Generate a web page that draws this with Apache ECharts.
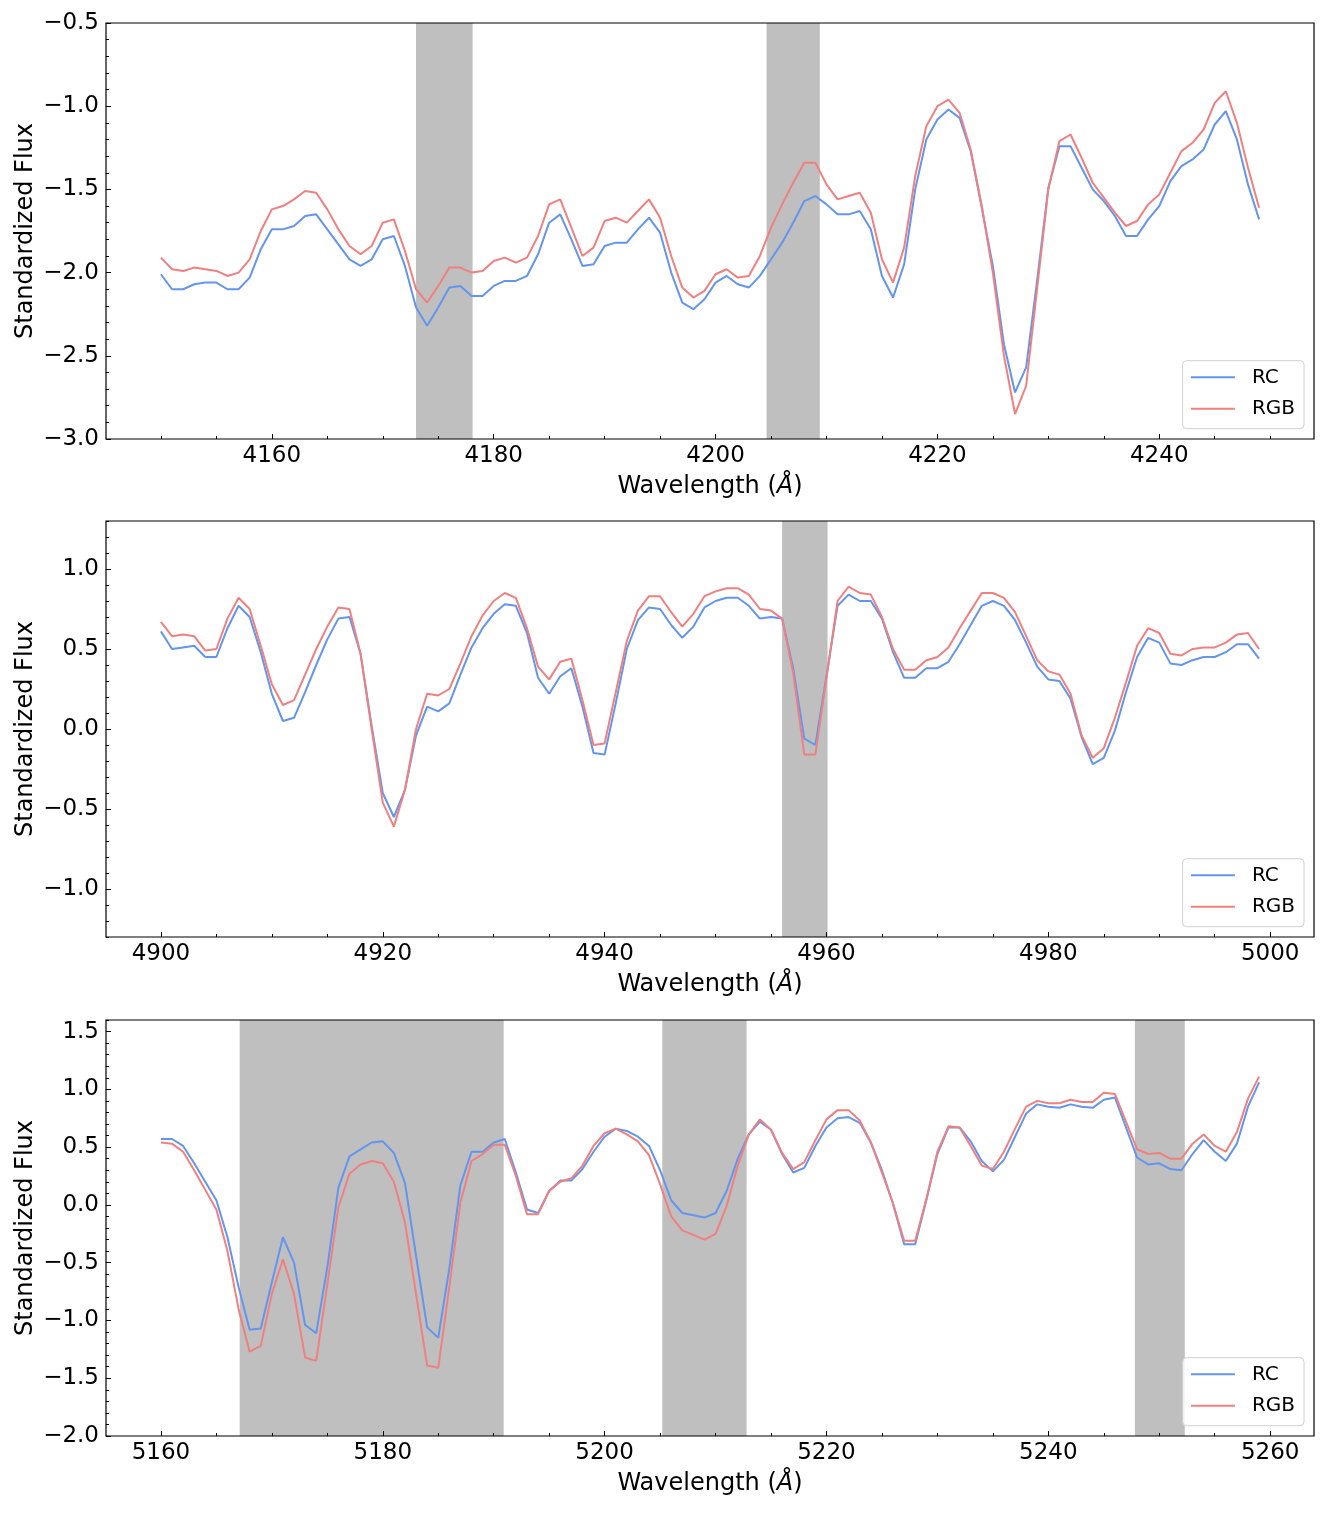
<!DOCTYPE html>
<html>
<head>
<meta charset="utf-8">
<script src="https://cdn.jsdelivr.net/npm/echarts@6/dist/echarts.min.js"></script>
<style>
html,body{margin:0;padding:0;background:#fff;}
#chart{width:1329px;height:1518px;}
</style>
</head>
<body>
<div id="chart"></div>
<script>
// ---------- data ----------
const wl1 = [4150,4151,4152,4153,4154,4155,4156,4157,4158,4159,4160,4161,4162,4163,4164,4165,4166,4167,4168,4169,4170,4171,4172,4173,4174,4175,4176,4177,4178,4179,4180,4181,4182,4183,4184,4185,4186,4187,4188,4189,4190,4191,4192,4193,4194,4195,4196,4197,4198,4199,4200,4201,4202,4203,4204,4205,4206,4207,4208,4209,4210,4211,4212,4213,4214,4215,4216,4217,4218,4219,4220,4221,4222,4223,4224,4225,4226,4227,4228,4229,4230,4231,4232,4233,4234,4235,4236,4237,4238,4239,4240,4241,4242,4243,4244,4245,4246,4247,4248,4249];
const rc1 = [-2.01,-2.10,-2.10,-2.07,-2.06,-2.06,-2.10,-2.10,-2.03,-1.86,
  -1.74,-1.74,-1.72,-1.66,-1.65,-1.74,-1.83,-1.92,-1.96,-1.92,
  -1.80,-1.78,-1.96,-2.21,-2.32,-2.21,-2.09,-2.08,-2.14,-2.14,
  -2.08,-2.05,-2.05,-2.02,-1.89,-1.70,-1.65,-1.80,-1.96,-1.95,
  -1.84,-1.82,-1.82,-1.74,-1.67,-1.76,-2.00,-2.18,-2.22,-2.16,
  -2.06,-2.02,-2.07,-2.09,-2.02,-1.92,-1.82,-1.70,-1.57,-1.54,
  -1.59,-1.65,-1.65,-1.63,-1.74,-2.02,-2.15,-1.95,-1.50,-1.20,
  -1.08,-1.02,-1.07,-1.27,-1.61,-1.96,-2.43,-2.72,-2.57,-2.04,
  -1.49,-1.24,-1.24,-1.37,-1.50,-1.57,-1.66,-1.78,-1.78,-1.68,
  -1.60,-1.45,-1.36,-1.32,-1.26,-1.11,-1.03,-1.20,-1.47,-1.68];
const rgb1 = [-1.91,-1.98,-1.99,-1.97,-1.98,-1.99,-2.02,-2.00,-1.92,-1.75,
  -1.62,-1.60,-1.56,-1.51,-1.52,-1.62,-1.74,-1.84,-1.89,-1.84,
  -1.70,-1.68,-1.87,-2.10,-2.18,-2.08,-1.97,-1.97,-2.00,-1.99,
  -1.93,-1.91,-1.94,-1.91,-1.78,-1.59,-1.56,-1.73,-1.90,-1.85,
  -1.69,-1.67,-1.70,-1.63,-1.56,-1.67,-1.90,-2.09,-2.15,-2.11,
  -2.01,-1.98,-2.03,-2.02,-1.90,-1.73,-1.59,-1.46,-1.34,-1.34,
  -1.47,-1.56,-1.54,-1.52,-1.64,-1.92,-2.06,-1.85,-1.42,-1.12,
  -1.00,-0.96,-1.04,-1.26,-1.60,-2.00,-2.50,-2.85,-2.68,-2.09,
  -1.50,-1.21,-1.17,-1.31,-1.46,-1.55,-1.64,-1.72,-1.69,-1.59,
  -1.53,-1.40,-1.27,-1.22,-1.14,-0.98,-0.91,-1.10,-1.37,-1.61];

const wl2 = [4900,4901,4902,4903,4904,4905,4906,4907,4908,4909,4910,4911,4912,4913,4914,4915,4916,4917,4918,4919,4920,4921,4922,4923,4924,4925,4926,4927,4928,4929,4930,4931,4932,4933,4934,4935,4936,4937,4938,4939,4940,4941,4942,4943,4944,4945,4946,4947,4948,4949,4950,4951,4952,4953,4954,4955,4956,4957,4958,4959,4960,4961,4962,4963,4964,4965,4966,4967,4968,4969,4970,4971,4972,4973,4974,4975,4976,4977,4978,4979,4980,4981,4982,4983,4984,4985,4986,4987,4988,4989,4990,4991,4992,4993,4994,4995,4996,4997,4998,4999];
const rc2 = [0.61,0.50,0.51,0.52,0.45,0.45,0.63,0.77,0.70,0.48,
  0.22,0.05,0.07,0.23,0.40,0.56,0.69,0.70,0.47,0.02,
  -0.40,-0.55,-0.38,-0.04,0.14,0.11,0.16,0.34,0.51,0.63,
  0.72,0.78,0.77,0.60,0.32,0.22,0.33,0.38,0.14,-0.15,
  -0.16,0.16,0.50,0.68,0.76,0.75,0.65,0.57,0.64,0.76,
  0.80,0.82,0.82,0.77,0.69,0.70,0.69,0.38,-0.06,-0.10,
  0.33,0.77,0.84,0.80,0.80,0.69,0.48,0.32,0.32,0.38,
  0.38,0.42,0.53,0.65,0.77,0.80,0.77,0.68,0.54,0.39,
  0.31,0.30,0.19,-0.05,-0.22,-0.18,-0.01,0.23,0.45,0.57,
  0.54,0.41,0.40,0.43,0.45,0.45,0.48,0.53,0.53,0.44];
const rgb2 = [0.67,0.58,0.59,0.58,0.49,0.50,0.69,0.82,0.75,0.52,
  0.28,0.15,0.18,0.34,0.50,0.64,0.76,0.75,0.47,0.00,
  -0.46,-0.61,-0.38,0.00,0.22,0.21,0.25,0.41,0.58,0.71,
  0.80,0.85,0.82,0.63,0.39,0.31,0.42,0.44,0.18,-0.10,
  -0.09,0.23,0.55,0.74,0.83,0.83,0.73,0.64,0.72,0.83,
  0.86,0.88,0.88,0.84,0.75,0.74,0.69,0.35,-0.16,-0.16,
  0.32,0.80,0.89,0.85,0.84,0.70,0.50,0.37,0.37,0.43,
  0.45,0.51,0.63,0.74,0.85,0.85,0.82,0.73,0.58,0.43,
  0.36,0.34,0.22,-0.04,-0.18,-0.12,0.07,0.29,0.52,0.63,
  0.60,0.47,0.46,0.50,0.51,0.51,0.54,0.59,0.60,0.50];

const wl3 = [5160,5161,5162,5163,5164,5165,5166,5167,5168,5169,5170,5171,5172,5173,5174,5175,5176,5177,5178,5179,5180,5181,5182,5183,5184,5185,5186,5187,5188,5189,5190,5191,5192,5193,5194,5195,5196,5197,5198,5199,5200,5201,5202,5203,5204,5205,5206,5207,5208,5209,5210,5211,5212,5213,5214,5215,5216,5217,5218,5219,5220,5221,5222,5223,5224,5225,5226,5227,5228,5229,5230,5231,5232,5233,5234,5235,5236,5237,5238,5239,5240,5241,5242,5243,5244,5245,5246,5247,5248,5249,5250,5251,5252,5253,5254,5255,5256,5257,5258,5259];
const rc3 = [0.57,0.57,0.51,0.36,0.20,0.04,-0.28,-0.71,-1.08,-1.07,
  -0.67,-0.28,-0.50,-1.04,-1.11,-0.54,0.15,0.42,0.48,0.54,
  0.55,0.45,0.19,-0.44,-1.06,-1.15,-0.55,0.17,0.46,0.46,
  0.54,0.57,0.28,-0.04,-0.07,0.12,0.21,0.21,0.31,0.46,
  0.59,0.66,0.64,0.59,0.51,0.30,0.04,-0.07,-0.09,-0.11,
  -0.07,0.12,0.40,0.61,0.72,0.65,0.44,0.28,0.32,0.51,
  0.67,0.75,0.76,0.71,0.54,0.30,0.01,-0.34,-0.34,0.04,
  0.44,0.67,0.67,0.55,0.38,0.29,0.39,0.59,0.79,0.87,
  0.85,0.84,0.87,0.85,0.84,0.91,0.93,0.67,0.41,0.35,
  0.36,0.31,0.30,0.44,0.56,0.46,0.38,0.53,0.85,1.06];
const rgb3 = [0.54,0.53,0.46,0.30,0.13,-0.04,-0.40,-0.90,-1.27,-1.22,
  -0.77,-0.47,-0.77,-1.32,-1.35,-0.69,-0.02,0.27,0.35,0.38,
  0.36,0.20,-0.15,-0.77,-1.39,-1.41,-0.71,0.02,0.38,0.44,
  0.52,0.52,0.25,-0.08,-0.08,0.12,0.20,0.23,0.34,0.51,
  0.62,0.66,0.61,0.55,0.43,0.18,-0.10,-0.22,-0.26,-0.30,
  -0.25,-0.01,0.34,0.61,0.74,0.65,0.45,0.31,0.37,0.56,
  0.74,0.82,0.82,0.73,0.54,0.28,0.01,-0.31,-0.31,0.05,
  0.46,0.68,0.67,0.51,0.34,0.31,0.46,0.66,0.85,0.90,
  0.88,0.88,0.91,0.89,0.89,0.97,0.96,0.72,0.48,0.44,
  0.45,0.40,0.40,0.53,0.61,0.51,0.46,0.63,0.92,1.11];

const xTicks1 = [4160,4180,4200,4220,4240];
const xTicks2 = [4900,4920,4940,4960,4980,5000];
const xTicks3 = [5160,5180,5200,5220,5240,5260];
const yTicks1 = [-3.0,-2.5,-2.0,-1.5,-1.0,-0.5];
const yTicks2 = [-1.0,-0.5,0.0,0.5,1.0];
const yTicks3 = [-2.0,-1.5,-1.0,-0.5,0.0,0.5,1.0,1.5];

const bands1 = [[4173.0,4178.1],[4204.6,4209.4]];
const bands2 = [[4956.0,4960.1]];
const bands3 = [[5167.1,5190.9],[5205.2,5212.8],[5247.8,5252.3]];

const seriesNames = ['RC','RGB'];

// ---------- layout / style ----------
const FONT = 'DejaVu Sans';
const COL_RC = '#6495ED';
const COL_RGB = '#F08080';

function minorTicks(lo, hi, step){
  const out = [];
  const s = Math.ceil(lo/step - 1e-9), e = Math.floor(hi/step + 1e-9);
  for (let i = s; i <= e; i++) out.push(+(i*step).toFixed(6));
  return out;
}
function fmtY(v){
  const a = Math.abs(v).toFixed(1);
  return (v < -1e-9 ? '\u2212' : '') + a;
}

const panels = [
  {wl: wl1, rc: rc1, rgb: rgb1, xr: [4145.05, 4253.95], yr: [-3.0, -0.5], xt: xTicks1, yt: yTicks1, bands: bands1, top: 23},
  {wl: wl2, rc: rc2, rgb: rgb2, xr: [4895.05, 5003.95], yr: [-1.3, 1.3], xt: xTicks2, yt: yTicks2, bands: bands2, top: 521},
  {wl: wl3, rc: rc3, rgb: rgb3, xr: [5155.05, 5263.95], yr: [-2.0, 1.6], xt: xTicks3, yt: yTicks3, bands: bands3, top: 1020}
];
const PH = 416;

const option = {
  animation: false,
  backgroundColor: '#ffffff',
  textStyle: {fontFamily: FONT},
  grid: [], xAxis: [], yAxis: [], series: [], legend: []
};

panels.forEach((p, i) => {
  option.grid.push({left: 106, right: 15, top: p.top, height: PH, show: true,
    borderColor: '#000', borderWidth: 1.2, backgroundColor: 'transparent', z: 5});

  const tickStyle = {color: '#000', width: 1};
  // main x axis
  option.xAxis.push({
    type: 'value', gridIndex: i, min: p.xr[0], max: p.xr[1], position: 'bottom', z: 6,
    axisLine: {show: false, onZero: false}, splitLine: {show: false},
    axisTick: {show: true, inside: true, length: 5, lineStyle: tickStyle, customValues: p.xt},
    axisLabel: {customValues: p.xt, margin: 6, fontSize: 23, color: '#000', fontFamily: FONT,
      formatter: v => String(Math.round(v))},
    name: 'Wavelength ({i|\u00C5})', nameLocation: 'middle', nameGap: 34, nameMoveOverlap: false,
    nameTextStyle: {fontSize: 24, color: '#000', fontFamily: FONT, lineHeight: 27,
      rich: {i: {fontStyle: 'italic', fontSize: 24, color: '#000', fontFamily: FONT, lineHeight: 27}}}
  });
  // minor x axis
  option.xAxis.push({
    type: 'value', gridIndex: i, min: p.xr[0], max: p.xr[1], position: 'bottom', z: 6,
    axisLine: {show: false, onZero: false}, splitLine: {show: false}, axisLabel: {show: false},
    axisTick: {show: true, inside: true, length: 3, lineStyle: tickStyle, customValues: minorTicks(p.xr[0], p.xr[1], 5)}
  });
  // main y axis
  option.yAxis.push({
    type: 'value', gridIndex: i, min: p.yr[0], max: p.yr[1], position: 'left', z: 6,
    axisLine: {show: false, onZero: false}, splitLine: {show: false},
    axisTick: {show: true, inside: true, length: 5, lineStyle: tickStyle, customValues: p.yt},
    axisLabel: {customValues: p.yt, margin: 7, fontSize: 23, color: '#000', fontFamily: FONT, formatter: fmtY},
    name: 'Standardized Flux', nameLocation: 'middle', nameRotate: 90, nameGap: 68, nameMoveOverlap: false,
    nameTextStyle: {fontSize: 24, color: '#000', fontFamily: FONT}
  });
  // minor y axis
  option.yAxis.push({
    type: 'value', gridIndex: i, min: p.yr[0], max: p.yr[1], position: 'left', z: 6,
    axisLine: {show: false, onZero: false}, splitLine: {show: false}, axisLabel: {show: false},
    axisTick: {show: true, inside: true, length: 3, lineStyle: tickStyle, customValues: minorTicks(p.yr[0], p.yr[1], 0.1)}
  });

  // shaded bands
  option.series.push({
    type: 'line', xAxisIndex: 2*i, yAxisIndex: 2*i, data: [], z: 1, silent: true,
    markArea: {silent: true, itemStyle: {color: '#bfbfbf', opacity: 1},
      data: p.bands.map(b => [{xAxis: b[0]}, {xAxis: b[1]}])}
  });
  option.series.push({
    name: seriesNames[0], type: 'line', xAxisIndex: 2*i, yAxisIndex: 2*i, z: 3,
    data: p.wl.map((x, j) => [x, p.rc[j]]), symbol: 'none', showSymbol: false,
    lineStyle: {width: 2, color: COL_RC}, itemStyle: {color: COL_RC}
  });
  option.series.push({
    name: seriesNames[1], type: 'line', xAxisIndex: 2*i, yAxisIndex: 2*i, z: 4,
    data: p.wl.map((x, j) => [x, p.rgb[j]]), symbol: 'none', showSymbol: false,
    lineStyle: {width: 2, color: COL_RGB}, itemStyle: {color: COL_RGB}
  });

  option.legend.push({
    data: seriesNames, orient: 'vertical', right: 25, top: p.top + PH - 10.3 - 68,
    itemWidth: 44, itemHeight: 20, itemGap: 11.4, padding: [6.6, 9, 10, 7.3],
    borderColor: '#d0d0d0', borderWidth: 1, borderRadius: 4,
    backgroundColor: 'rgba(255,255,255,0.8)', selectedMode: false, z: 10,
    itemStyle: {opacity: 0, borderWidth: 0},
    lineStyle: {width: 2},
    textStyle: {fontSize: 20, color: '#000', fontFamily: FONT, lineHeight: 20, padding: [0, 0, 0, 12]}
  });
});

const chart = echarts.init(document.getElementById('chart'), null, {renderer: 'canvas'});
chart.setOption(option);
</script>
</body>
</html>
